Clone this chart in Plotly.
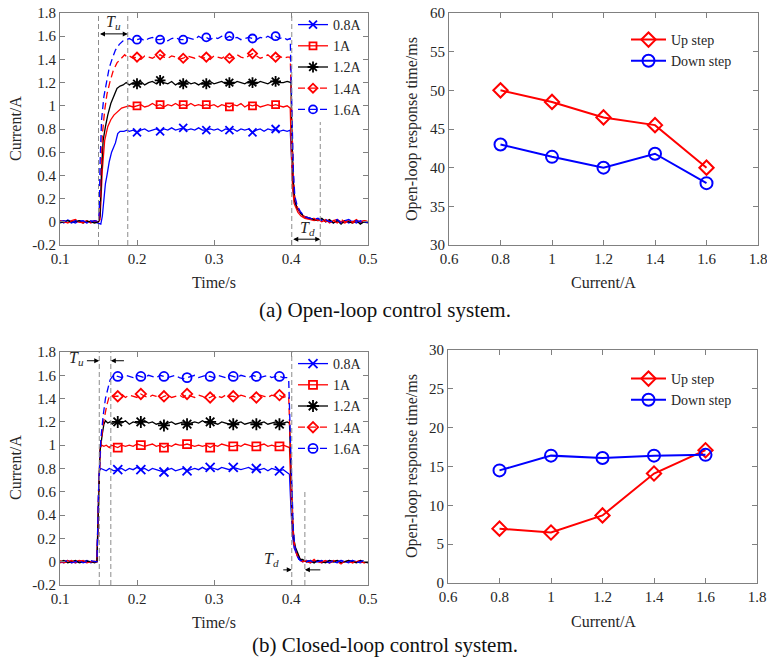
import plotly.graph_objects as go

W, H = 767, 660

# ---------------- (a) open-loop time response ----------------
A_T_BASE = [0.100, 0.105, 0.110, 0.115, 0.120, 0.125, 0.130, 0.135, 0.140, 0.145, 0.150]
A_T_PLAT = [0.190, 0.195, 0.200, 0.205, 0.210, 0.215, 0.220, 0.225, 0.230, 0.235, 0.240, 0.245,
            0.250, 0.255, 0.260, 0.265, 0.270, 0.275, 0.280, 0.285, 0.290, 0.295, 0.300, 0.305,
            0.310, 0.315, 0.320, 0.325, 0.330, 0.335, 0.340, 0.345, 0.350, 0.355, 0.360, 0.365,
            0.370, 0.375, 0.380, 0.385, 0.390, 0.395]
A_T_TAIL = [0.430, 0.435, 0.440, 0.445, 0.450, 0.455, 0.460, 0.465, 0.470, 0.475, 0.480, 0.485,
            0.490, 0.495, 0.500]
A_T_MARK = [0.20, 0.23, 0.26, 0.29, 0.32, 0.35, 0.38]

A08_BASE = [0.01, -0.01, 0.015, 0.0, -0.01, 0.01, 0.005, -0.01, 0.01, 0.0, -0.01]
A08_RISE_T = [0.153, 0.155, 0.157, 0.159, 0.161, 0.164, 0.167, 0.170, 0.172, 0.175, 0.178, 0.183, 0.187]
A08_RISE_Y = [-0.02, 0.05, 0.20, 0.33, 0.40, 0.52, 0.60, 0.64, 0.68, 0.76, 0.78, 0.78, 0.79]
A08_PLAT = [0.78, 0.79, 0.77, 0.79, 0.80, 0.78,
            0.79, 0.80, 0.78, 0.80, 0.79, 0.81,
            0.79, 0.80, 0.81, 0.79, 0.80, 0.79,
            0.81, 0.79, 0.79, 0.80, 0.79, 0.80,
            0.78, 0.80, 0.79, 0.80, 0.78, 0.80,
            0.79, 0.80, 0.77, 0.79, 0.80, 0.78,
            0.80, 0.79, 0.80, 0.78, 0.79, 0.78]
A08_FALL_T = [0.399, 0.401, 0.403, 0.405, 0.408, 0.412, 0.416, 0.420, 0.425]
A08_FALL_Y = [0.79, 0.50, 0.25, 0.17, 0.12, 0.08, 0.05, 0.03, 0.03]
A08_TAIL = [0.02, 0.01, 0.02, 0.0, 0.01, -0.01, 0.01, 0.0, 0.01, -0.01, 0.005, -0.01, 0.01, 0.0, 0.0]
A08_MARK = [0.77, 0.78, 0.81, 0.79, 0.79, 0.77, 0.80]

A10_BASE = [0.0, 0.01, -0.01, 0.005, 0.01, -0.005, 0.0, 0.01, -0.01, 0.005, 0.0]
A10_RISE_T = [0.152, 0.155, 0.158, 0.162, 0.166, 0.170, 0.175, 0.180, 0.185]
A10_RISE_Y = [0.02, 0.45, 0.70, 0.82, 0.88, 0.92, 0.95, 0.98, 0.99]
A10_PLAT = [1.00, 0.99, 1.00, 1.01, 0.99, 1.00,
            1.02, 1.00, 1.01, 0.99, 1.01, 1.00,
            1.02, 1.00, 1.01, 1.00, 1.02, 1.00,
            1.01, 1.00, 1.01, 1.00, 1.01, 0.99,
            1.01, 1.00, 0.99, 1.01, 1.00, 1.02,
            0.99, 1.01, 1.00, 1.01, 0.99, 1.00,
            1.01, 1.00, 1.01, 1.00, 0.99, 1.00]
A10_FALL_T = [0.399, 0.4005, 0.402, 0.404, 0.406, 0.409, 0.413, 0.418, 0.424]
A10_FALL_Y = [0.98, 0.60, 0.30, 0.16, 0.12, 0.08, 0.05, 0.03, 0.02]
A10_TAIL = [0.01, 0.02, 0.0, 0.02, -0.01, 0.01, 0.02, 0.0, -0.01, 0.01, 0.0, 0.02, -0.01, 0.01, 0.0]
A10_MARK = [1.00, 1.01, 1.01, 1.01, 0.99, 1.00, 1.01]

A12_BASE = [-0.01, 0.0, 0.01, -0.005, 0.0, 0.01, -0.01, 0.005, 0.0, -0.01, 0.0]
A12_RISE_T = [0.152, 0.154, 0.156, 0.159, 0.162, 0.166, 0.170, 0.174, 0.178, 0.182, 0.186]
A12_RISE_Y = [0.05, 0.45, 0.70, 0.82, 0.92, 1.02, 1.09, 1.15, 1.17, 1.18, 1.20]
A12_PLAT = [1.18, 1.20, 1.19, 1.21, 1.18, 1.20,
            1.21, 1.19, 1.22, 1.20, 1.19, 1.21,
            1.18, 1.20, 1.19, 1.21, 1.19, 1.20,
            1.18, 1.20, 1.19, 1.21, 1.19, 1.20,
            1.21, 1.19, 1.20, 1.19, 1.21, 1.20,
            1.19, 1.21, 1.20, 1.19, 1.21, 1.20,
            1.19, 1.21, 1.21, 1.20, 1.20, 1.21]
A12_FALL_T = [0.400, 0.401, 0.403, 0.405, 0.408, 0.412, 0.416, 0.420, 0.425]
A12_FALL_Y = [1.20, 0.80, 0.35, 0.18, 0.12, 0.08, 0.05, 0.04, 0.03]
A12_TAIL = [0.02, 0.01, 0.03, 0.0, 0.02, -0.01, 0.01, -0.02, 0.01, 0.0, -0.01, 0.01, -0.02, 0.0, -0.01]
A12_MARK = [1.19, 1.22, 1.19, 1.19, 1.20, 1.20, 1.21]

A14_BASE = [0.01, 0.0, -0.01, 0.01, 0.02, 0.0, -0.01, 0.01, 0.0, 0.01, 0.0]
A14_RISE_T = [0.151, 0.153, 0.155, 0.158, 0.161, 0.165, 0.169, 0.174, 0.179, 0.184, 0.187]
A14_RISE_Y = [0.05, 0.40, 0.75, 0.96, 1.10, 1.21, 1.30, 1.37, 1.41, 1.44, 1.42]
A14_PLAT = [1.43, 1.41, 1.42, 1.40, 1.43, 1.42,
            1.41, 1.43, 1.44, 1.42, 1.41, 1.43,
            1.42, 1.40, 1.41, 1.43, 1.42, 1.41,
            1.43, 1.41, 1.42, 1.40, 1.43, 1.42,
            1.41, 1.43, 1.41, 1.42, 1.44, 1.42,
            1.41, 1.43, 1.45, 1.43, 1.41, 1.42,
            1.44, 1.41, 1.42, 1.43, 1.41, 1.42]
A14_FALL_T = [0.399, 0.401, 0.403, 0.405, 0.408, 0.412, 0.416, 0.420, 0.425]
A14_FALL_Y = [1.42, 0.90, 0.40, 0.20, 0.13, 0.08, 0.05, 0.04, 0.03]
A14_TAIL = [0.03, 0.01, 0.02, 0.0, 0.02, 0.01, -0.01, 0.02, 0.0, 0.01, -0.01, 0.01, 0.0, 0.01, 0.0]
A14_MARK = [1.42, 1.44, 1.41, 1.42, 1.41, 1.45, 1.42]

A16_BASE = [0.0, 0.01, 0.0, -0.01, 0.01, 0.0, 0.01, -0.01, 0.0, 0.01, 0.0]
A16_RISE_T = [0.151, 0.152, 0.154, 0.157, 0.160, 0.164, 0.168, 0.172, 0.177, 0.182, 0.186]
A16_RISE_Y = [0.10, 0.50, 0.88, 1.08, 1.20, 1.33, 1.41, 1.48, 1.53, 1.56, 1.57]
A16_PLAT = [1.58, 1.56, 1.57, 1.58, 1.56, 1.58,
            1.59, 1.57, 1.57, 1.58, 1.56, 1.58,
            1.59, 1.57, 1.57, 1.59, 1.58, 1.57,
            1.60, 1.58, 1.59, 1.57, 1.59, 1.58,
            1.60, 1.58, 1.60, 1.58, 1.59, 1.57,
            1.58, 1.59, 1.58, 1.57, 1.59, 1.58,
            1.60, 1.58, 1.60, 1.58, 1.59, 1.57]
A16_FALL_T = [0.399, 0.401, 0.403, 0.405, 0.408, 0.412, 0.416, 0.420, 0.425]
A16_FALL_Y = [1.58, 1.00, 0.45, 0.22, 0.14, 0.09, 0.06, 0.04, 0.03]
A16_TAIL = [0.02, 0.03, 0.01, 0.02, 0.0, 0.01, 0.02, -0.01, 0.01, 0.02, 0.0, 0.01, 0.0, -0.01, 0.0]
A16_MARK = [1.57, 1.57, 1.57, 1.59, 1.60, 1.58, 1.60]

# Tu / Td reference lines (s)
A_TU = [0.150, 0.188]
A_TD = [0.401, 0.438]

# ---------------- (b) closed-loop time response ----------------
B_T_BASE = [0.100, 0.105, 0.110, 0.115, 0.120, 0.125, 0.130, 0.135, 0.140, 0.145]
B_T_PLAT = [0.170, 0.175, 0.180, 0.185, 0.190, 0.195,
            0.200, 0.205, 0.210, 0.215, 0.220, 0.225,
            0.230, 0.235, 0.240, 0.245, 0.250, 0.255,
            0.260, 0.265, 0.270, 0.275, 0.280, 0.285,
            0.290, 0.295, 0.300, 0.305, 0.310, 0.315,
            0.320, 0.325, 0.330, 0.335, 0.340, 0.345,
            0.350, 0.355, 0.360, 0.365, 0.370, 0.375,
            0.380, 0.385, 0.390, 0.395]
B_T_TAIL = [0.415, 0.420, 0.425, 0.430, 0.435, 0.440, 0.445, 0.450, 0.455, 0.460, 0.465, 0.470,
            0.475, 0.480, 0.485, 0.490, 0.495, 0.500]
B_T_MARK = [0.175, 0.205, 0.235, 0.265, 0.295, 0.325, 0.355, 0.385]

B08_BASE = [0.0, -0.01, 0.01, 0.0, -0.01, 0.005, 0.0, 0.01, -0.01, 0.0]
B08_RISE_T = [0.148, 0.150, 0.151, 0.153, 0.156, 0.160, 0.164, 0.167]
B08_RISE_Y = [0.0, 0.55, 0.78, 0.80, 0.79, 0.78, 0.80, 0.79]
B08_PLAT = [0.78, 0.79, 0.80, 0.78, 0.80, 0.79,
            0.81, 0.79, 0.80, 0.78, 0.80, 0.79,
            0.78, 0.77, 0.79, 0.80, 0.78, 0.79,
            0.80, 0.78, 0.79, 0.80, 0.79, 0.81,
            0.79, 0.81, 0.80, 0.79, 0.81, 0.80,
            0.79, 0.81, 0.80, 0.79, 0.80, 0.81,
            0.79, 0.80, 0.79, 0.80, 0.78, 0.80,
            0.79, 0.78, 0.79, 0.76]
B08_FALL_T = [0.398, 0.400, 0.402, 0.404, 0.407, 0.410, 0.413]
B08_FALL_Y = [0.75, 0.45, 0.22, 0.12, 0.06, 0.02, 0.01]
B08_TAIL = [0.0, 0.01, -0.01, 0.0, 0.01, -0.01, 0.0, 0.01, 0.0, -0.01, 0.01, 0.0, -0.01, 0.01, 0.0, -0.01, 0.0, 0.0]
B08_MARK = [0.79, 0.79, 0.77, 0.78, 0.81, 0.81, 0.80, 0.78]

B10_BASE = [-0.01, 0.0, 0.01, -0.01, 0.0, 0.01, 0.0, -0.01, 0.0, 0.005]
B10_RISE_T = [0.148, 0.150, 0.152, 0.154, 0.157, 0.160, 0.164, 0.167]
B10_RISE_Y = [0.0, 0.60, 0.98, 1.00, 0.99, 1.00, 0.98, 1.00]
B10_PLAT = [0.99, 0.98, 1.00, 0.99, 1.00, 0.99,
            1.01, 1.00, 0.99, 1.00, 1.01, 0.99,
            1.00, 0.98, 1.00, 0.99, 1.01, 1.00,
            1.00, 1.01, 1.00, 0.99, 1.00, 0.99,
            1.00, 0.98, 1.00, 0.99, 1.01, 1.00,
            0.99, 0.99, 1.00, 0.99, 1.01, 1.00,
            0.99, 0.99, 1.00, 1.01, 0.99, 1.00,
            0.99, 0.99, 1.00, 0.99]
B10_FALL_T = [0.398, 0.400, 0.402, 0.404, 0.406, 0.409, 0.412]
B10_FALL_Y = [0.98, 0.60, 0.30, 0.15, 0.10, 0.06, 0.02]
B10_TAIL = [0.01, 0.0, -0.01, 0.01, 0.0, -0.01, 0.01, -0.01, 0.0, 0.01, -0.01, 0.0, 0.01, -0.01, 0.0, 0.01, -0.01, 0.0]
B10_MARK = [0.98, 1.00, 0.98, 1.01, 0.98, 0.99, 0.99, 0.99]

B12_BASE = [0.0, 0.01, -0.01, 0.0, 0.01, -0.01, 0.0, 0.005, 0.0, -0.01]
B12_RISE_T = [0.148, 0.150, 0.152, 0.155, 0.157, 0.159, 0.162, 0.165, 0.168]
B12_RISE_Y = [0.0, 0.55, 0.95, 1.10, 1.18, 1.21, 1.19, 1.20, 1.18]
B12_PLAT = [1.19, 1.20, 1.19, 1.21, 1.18, 1.20,
            1.19, 1.20, 1.21, 1.19, 1.20, 1.18,
            1.19, 1.17, 1.19, 1.20, 1.18, 1.19,
            1.20, 1.18, 1.19, 1.20, 1.19, 1.21,
            1.19, 1.20, 1.19, 1.18, 1.20, 1.19,
            1.18, 1.18, 1.19, 1.20, 1.18, 1.19,
            1.20, 1.18, 1.19, 1.20, 1.18, 1.19,
            1.20, 1.18, 1.19, 1.20]
B12_FALL_T = [0.398, 0.400, 0.402, 0.404, 0.406, 0.409, 0.412]
B12_FALL_Y = [1.19, 0.75, 0.35, 0.18, 0.12, 0.07, 0.02]
B12_TAIL = [0.02, 0.0, 0.01, -0.01, 0.01, 0.0, -0.01, 0.01, 0.0, 0.01, -0.01, 0.0, 0.01, 0.0, -0.01, 0.01, 0.0, -0.01]
B12_MARK = [1.20, 1.20, 1.17, 1.18, 1.20, 1.18, 1.18, 1.18]

B14_BASE = [0.01, -0.01, 0.0, 0.01, -0.01, 0.0, 0.01, -0.01, 0.0, 0.0]
B14_RISE_T = [0.148, 0.150, 0.153, 0.156, 0.159, 0.161, 0.164, 0.167]
B14_RISE_Y = [0.0, 0.60, 1.00, 1.18, 1.30, 1.35, 1.42, 1.43]
B14_PLAT = [1.42, 1.42, 1.44, 1.41, 1.43, 1.42,
            1.41, 1.44, 1.42, 1.41, 1.43, 1.42,
            1.40, 1.42, 1.43, 1.41, 1.42, 1.43,
            1.41, 1.44, 1.42, 1.41, 1.43, 1.42,
            1.40, 1.41, 1.43, 1.42, 1.41, 1.43,
            1.42, 1.42, 1.41, 1.43, 1.42, 1.40,
            1.42, 1.41, 1.43, 1.42, 1.41, 1.43,
            1.42, 1.43, 1.41, 1.42]
B14_FALL_T = [0.397, 0.399, 0.401, 0.403, 0.405, 0.408, 0.412]
B14_FALL_Y = [1.42, 1.00, 0.55, 0.25, 0.12, 0.05, 0.01]
B14_TAIL = [0.0, 0.01, -0.01, 0.02, -0.01, 0.0, 0.01, -0.01, 0.01, 0.0, -0.02, 0.01, 0.0, -0.01, 0.01, 0.0, -0.01, 0.0]
B14_MARK = [1.42, 1.44, 1.42, 1.44, 1.41, 1.42, 1.41, 1.43]

B16_BASE = [0.0, 0.0, 0.01, -0.01, 0.0, 0.01, -0.01, 0.0, 0.01, 0.0]
B16_RISE_T = [0.148, 0.150, 0.153, 0.156, 0.159, 0.162, 0.165, 0.168]
B16_RISE_Y = [0.0, 0.60, 1.05, 1.25, 1.40, 1.48, 1.56, 1.59]
B16_PLAT = [1.60, 1.59, 1.58, 1.60, 1.59, 1.58,
            1.60, 1.59, 1.58, 1.60, 1.59, 1.58,
            1.60, 1.59, 1.58, 1.59, 1.60, 1.58,
            1.57, 1.58, 1.59, 1.60, 1.58, 1.59,
            1.60, 1.59, 1.58, 1.60, 1.59, 1.58,
            1.60, 1.59, 1.58, 1.60, 1.59, 1.58,
            1.60, 1.59, 1.58, 1.59, 1.60, 1.58,
            1.59, 1.59, 1.58, 1.58]
B16_FALL_T = [0.397, 0.399, 0.401, 0.403, 0.405, 0.408, 0.412]
B16_FALL_Y = [1.57, 1.10, 0.60, 0.28, 0.13, 0.05, 0.01]
B16_TAIL = [0.01, 0.0, 0.01, -0.01, 0.0, 0.01, 0.0, -0.01, 0.01, 0.0, 0.01, -0.01, 0.0, 0.01, -0.01, 0.0, 0.01, 0.0]
B16_MARK = [1.59, 1.59, 1.59, 1.58, 1.59, 1.59, 1.59, 1.59]

B_TU = [0.151, 0.166]
B_TD = [0.401, 0.418]

# ---------------- response time vs current ----------------
CURRENT = [0.8, 1.0, 1.2, 1.4, 1.6]
OPEN_UP = [50.0, 48.5, 46.5, 45.5, 40.0]
OPEN_DOWN = [43.0, 41.4, 40.0, 41.8, 38.0]
CLOSED_UP = [7.0, 6.5, 8.7, 14.1, 17.1]
CLOSED_DOWN = [14.5, 16.4, 16.1, 16.4, 16.5]

SERIES_NAMES = ["0.8A", "1A", "1.2A", "1.4A", "1.6A"]
STEP_NAMES = ["Up step", "Down step"]

T_TICKS = [0.1, 0.2, 0.3, 0.4, 0.5]
T_TICKTEXT = ["0.1", "0.2", "0.3", "0.4", "0.5"]
I_TICKS = [-0.2, 0, 0.2, 0.4, 0.6, 0.8, 1.0, 1.2, 1.4, 1.6, 1.8]
I_TICKTEXT = ["-0.2", "0", "0.2", "0.4", "0.6", "0.8", "1", "1.2", "1.4", "1.6", "1.8"]
C_TICKS = [0.6, 0.8, 1.0, 1.2, 1.4, 1.6, 1.8]
C_TICKTEXT = ["0.6", "0.8", "1", "1.2", "1.4", "1.6", "1.8"]

FONT = "Liberation Serif"
BLUE = "#0000ff"
RED = "#ff0000"
BLACK = "#000000"
AX = "#808080"
TXT = "#262626"

STYLES = [
    dict(color=BLUE, dash="solid", symbol="x-thin-open", size=8),
    dict(color=RED, dash="solid", symbol="square-open", size=7),
    dict(color=BLACK, dash="solid", symbol="asterisk-open", size=9),
    dict(color=RED, dash="7px,4px", symbol="diamond-open", size=7),
    dict(color=BLUE, dash="7px,4px", symbol="circle-open", size=8),
]


def join(*parts):
    out = []
    for p in parts:
        out += list(p)
    return out


fig = go.Figure()


def add_time_series(xa, ya, legend, tb, tp, tt, tm, groups, size_boost):
    for name, st, g in zip(SERIES_NAMES, STYLES, groups):
        base, rt, ry, plat, ft, fy, tail, mark = g
        x = join(tb, rt, tp, ft, tt)
        y = join(base, ry, plat, fy, tail)
        fig.add_trace(go.Scatter(x=x, y=y, mode="lines", xaxis=xa, yaxis=ya, showlegend=False,
                                 line=dict(color=st["color"], width=1.3, dash=st["dash"])))
        mk = dict(symbol=st["symbol"], size=st["size"] + size_boost, color=st["color"],
                  line=dict(color=st["color"], width=1.8))
        fig.add_trace(go.Scatter(x=tm, y=mark, mode="markers", xaxis=xa, yaxis=ya,
                                 showlegend=False, marker=mk))
        fig.add_trace(go.Scatter(x=[None], y=[None], mode="lines+markers", xaxis=xa, yaxis=ya,
                                 name=name, legend=legend,
                                 line=dict(color=st["color"], width=1.3, dash=st["dash"]),
                                 marker=mk))


add_time_series("x", "y", "legend", A_T_BASE, A_T_PLAT, A_T_TAIL, A_T_MARK, [
    (A08_BASE, A08_RISE_T, A08_RISE_Y, A08_PLAT, A08_FALL_T, A08_FALL_Y, A08_TAIL, A08_MARK),
    (A10_BASE, A10_RISE_T, A10_RISE_Y, A10_PLAT, A10_FALL_T, A10_FALL_Y, A10_TAIL, A10_MARK),
    (A12_BASE, A12_RISE_T, A12_RISE_Y, A12_PLAT, A12_FALL_T, A12_FALL_Y, A12_TAIL, A12_MARK),
    (A14_BASE, A14_RISE_T, A14_RISE_Y, A14_PLAT, A14_FALL_T, A14_FALL_Y, A14_TAIL, A14_MARK),
    (A16_BASE, A16_RISE_T, A16_RISE_Y, A16_PLAT, A16_FALL_T, A16_FALL_Y, A16_TAIL, A16_MARK),
], 0)

add_time_series("x3", "y3", "legend3", B_T_BASE, B_T_PLAT, B_T_TAIL, B_T_MARK, [
    (B08_BASE, B08_RISE_T, B08_RISE_Y, B08_PLAT, B08_FALL_T, B08_FALL_Y, B08_TAIL, B08_MARK),
    (B10_BASE, B10_RISE_T, B10_RISE_Y, B10_PLAT, B10_FALL_T, B10_FALL_Y, B10_TAIL, B10_MARK),
    (B12_BASE, B12_RISE_T, B12_RISE_Y, B12_PLAT, B12_FALL_T, B12_FALL_Y, B12_TAIL, B12_MARK),
    (B14_BASE, B14_RISE_T, B14_RISE_Y, B14_PLAT, B14_FALL_T, B14_FALL_Y, B14_TAIL, B14_MARK),
    (B16_BASE, B16_RISE_T, B16_RISE_Y, B16_PLAT, B16_FALL_T, B16_FALL_Y, B16_TAIL, B16_MARK),
], 1)


def add_resp(xa, ya, legend, up, down):
    fig.add_trace(go.Scatter(x=CURRENT, y=up, mode="lines+markers", name=STEP_NAMES[0],
                             xaxis=xa, yaxis=ya, legend=legend,
                             line=dict(color=RED, width=2),
                             marker=dict(symbol="diamond-open", size=11, color=RED,
                                         line=dict(color=RED, width=2))))
    fig.add_trace(go.Scatter(x=CURRENT, y=down, mode="lines+markers", name=STEP_NAMES[1],
                             xaxis=xa, yaxis=ya, legend=legend,
                             line=dict(color=BLUE, width=2),
                             marker=dict(symbol="circle-open", size=12, color=BLUE,
                                         line=dict(color=BLUE, width=2))))


add_resp("x2", "y2", "legend2", OPEN_UP, OPEN_DOWN)
add_resp("x4", "y4", "legend4", CLOSED_UP, CLOSED_DOWN)


def xd(l, r):
    return [l / W, r / W]


def yd(t, b):
    return [1 - b / H, 1 - t / H]


def axis(domain, rng, tv, tt, anchor):
    return dict(domain=domain, range=rng, tickvals=tv, ticktext=tt, anchor=anchor,
                automargin=False, ticklabeloverflow="allow",
                showline=True, linecolor=AX, linewidth=1, mirror="ticks",
                ticks="inside", ticklen=5, tickcolor=AX, tickwidth=1,
                showgrid=False, zeroline=False,
                tickfont=dict(family=FONT, size=15, color=TXT))


PX = {"a_l": (60, 368, 13, 245), "a_r": (449, 758, 13, 245),
      "b_l": (60, 368, 352, 585), "b_r": (448, 757, 350, 583)}

layout = dict(
    width=W, height=H, margin=dict(l=0, r=0, t=0, b=0, autoexpand=False), autosize=False,
    paper_bgcolor="white", plot_bgcolor="white",
    font=dict(family=FONT, color=TXT),
    xaxis=axis(xd(*PX["a_l"][:2]), [0.1, 0.5], T_TICKS, T_TICKTEXT, "y"),
    yaxis=axis(yd(*PX["a_l"][2:]), [-0.2, 1.8], I_TICKS, I_TICKTEXT, "x"),
    xaxis2=axis(xd(*PX["a_r"][:2]), [0.6, 1.8], C_TICKS, C_TICKTEXT, "y2"),
    yaxis2=axis(yd(*PX["a_r"][2:]), [30, 60], [30, 35, 40, 45, 50, 55, 60],
                ["30", "35", "40", "45", "50", "55", "60"], "x2"),
    xaxis3=axis(xd(*PX["b_l"][:2]), [0.1, 0.5], T_TICKS, T_TICKTEXT, "y3"),
    yaxis3=axis(yd(*PX["b_l"][2:]), [-0.2, 1.8], I_TICKS, I_TICKTEXT, "x3"),
    xaxis4=axis(xd(*PX["b_r"][:2]), [0.6, 1.8], C_TICKS, C_TICKTEXT, "y4"),
    yaxis4=axis(yd(*PX["b_r"][2:]), [0, 30], [0, 5, 10, 15, 20, 25, 30],
                ["0", "5", "10", "15", "20", "25", "30"], "x4"),
)

leg_common = dict(bgcolor="rgba(0,0,0,0)", borderwidth=0, xanchor="left", yanchor="top",
                  font=dict(family=FONT, size=14, color=TXT), tracegroupgap=0,
                  itemclick=False, itemdoubleclick=False)
layout["legend"] = dict(x=293 / W, y=1 - 9 / H, **leg_common)
layout["legend3"] = dict(x=293 / W, y=1 - 348 / H, **leg_common)
layout["legend2"] = dict(x=626 / W, y=1 - 24 / H, itemwidth=35, **leg_common)
layout["legend4"] = dict(x=626 / W, y=1 - 363 / H, itemwidth=35, **leg_common)

fig.update_layout(**layout)

# dashed guide lines
DASH = dict(color="#8c8c8c", width=1, dash="5px,3px")
shapes = []
for xa, ya, lines in [("x", "y", [(A_TU[0], 1.8), (A_TU[1], 1.8), (A_TD[0], 1.8), (A_TD[1], 0.86)]),
                      ("x3", "y3", [(B_TU[0], 1.8), (B_TU[1], 1.8), (B_TD[0], 1.8), (B_TD[1], 0.6)])]:
    for xv, top in lines:
        shapes.append(dict(type="line", xref=xa, yref=ya, x0=xv, x1=xv, y0=-0.2, y1=top, line=DASH))
fig.update_layout(shapes=shapes)

ARW = dict(showarrow=True, text="", arrowhead=2, arrowsize=1, arrowwidth=1, arrowcolor="black",
           standoff=0, startstandoff=0)
anns = []
anns.append(dict(xref="x", yref="y", axref="x", ayref="y", x=A_TU[1], y=1.62, ax=A_TU[0], ay=1.62,
                 arrowside="end+start", **ARW))
anns.append(dict(xref="x", yref="y", axref="x", ayref="y", x=A_TD[1], y=-0.15, ax=A_TD[0], ay=-0.15,
                 arrowside="end+start", **ARW))
anns.append(dict(xref="x3", yref="y3", axref="x3", ayref="y3", x=B_TU[0], y=1.725, ax=0.133, ay=1.725, **ARW))
anns.append(dict(xref="x3", yref="y3", axref="x3", ayref="y3", x=B_TU[1], y=1.725, ax=0.185, ay=1.725, **ARW))
anns.append(dict(xref="x3", yref="y3", axref="x3", ayref="y3", x=B_TD[0], y=-0.07, ax=0.388, ay=-0.07, **ARW))
anns.append(dict(xref="x3", yref="y3", axref="x3", ayref="y3", x=B_TD[1], y=-0.07, ax=0.440, ay=-0.07, **ARW))

LBL = dict(showarrow=False, xanchor="center", yanchor="middle",
           font=dict(family=FONT, size=16, color=TXT))
anns.append(dict(xref="x", yref="y", x=0.170, y=1.72, text="<i>T</i><sub><i>u</i></sub>", **LBL))
anns.append(dict(xref="x", yref="y", x=0.421, y=-0.06, text="<i>T</i><sub><i>d</i></sub>", **LBL))
anns.append(dict(xref="x3", yref="y3", x=0.121, y=1.74, text="<i>T</i><sub><i>u</i></sub>", **LBL))
anns.append(dict(xref="x3", yref="y3", x=0.375, y=0.02, text="<i>T</i><sub><i>d</i></sub>", **LBL))

TT = dict(showarrow=False, xref="paper", yref="paper", xanchor="center", yanchor="middle",
          font=dict(family=FONT, size=16, color=TXT))
anns += [
    dict(x=214 / W, y=1 - 283 / H, text="Time/s", **TT),
    dict(x=603 / W, y=1 - 283 / H, text="Current/A", **TT),
    dict(x=214 / W, y=1 - 622 / H, text="Time/s", **TT),
    dict(x=603 / W, y=1 - 621 / H, text="Current/A", **TT),
    dict(x=15 / W, y=1 - 129 / H, text="Current/A", textangle=-90, **TT),
    dict(x=15 / W, y=1 - 468 / H, text="Current/A", textangle=-90, **TT),
    dict(x=412 / W, y=1 - 129 / H, text="Open-loop response time/ms", textangle=-90, **TT),
    dict(x=412 / W, y=1 - 466 / H, text="Open-loop response time/ms", textangle=-90, **TT),
]
CAP = dict(showarrow=False, xref="paper", yref="paper", xanchor="center", yanchor="middle",
           font=dict(family=FONT, size=21, color="#111111"))
anns += [
    dict(x=385 / W, y=1 - 310 / H, text="(a) Open-loop control system.", **CAP),
    dict(x=385 / W, y=1 - 645 / H, text="(b) Closed-loop control system.", **CAP),
]
fig.update_layout(annotations=anns)

fig.write_html("out.html", config={"displayModeBar": False},
               post_script="document.body.style.margin='0';document.body.style.overflow='hidden';")
